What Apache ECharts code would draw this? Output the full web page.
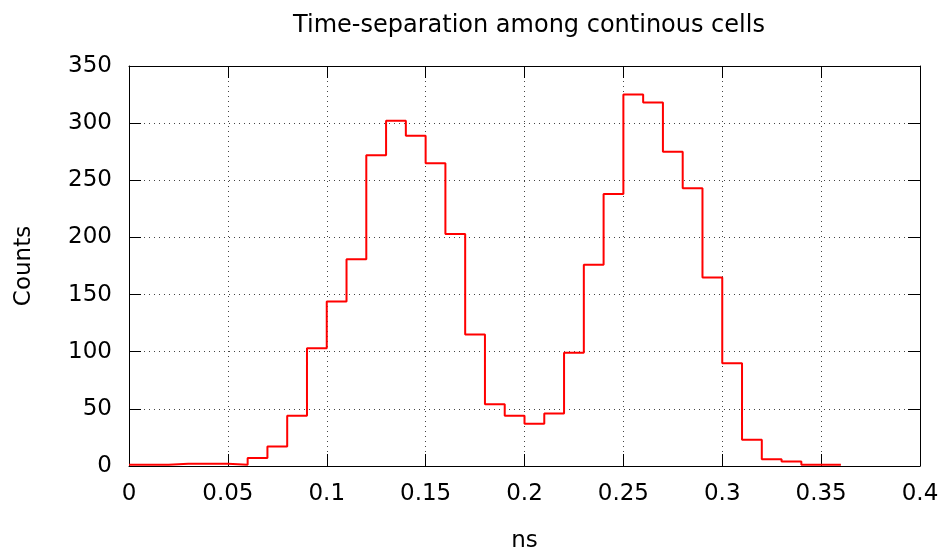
<!DOCTYPE html>
<html>
<head>
<meta charset="utf-8">
<script src="https://cdn.jsdelivr.net/npm/echarts@6/dist/echarts.min.js"></script>
<style>html,body{margin:0;padding:0;background:#fff}#c{width:944px;height:550px}</style>
</head>
<body>
<div id="c"></div>
<script>
// Histogram bins (left edges, ns) and counts
var binStarts = [0.00,0.01,0.02,0.03,0.04,0.05,0.06,0.07,0.08,0.09,
                 0.10,0.11,0.12,0.13,0.14,0.15,0.16,0.17,0.18,0.19,
                 0.20,0.21,0.22,0.23,0.24,0.25,0.26,0.27,0.28,0.29,
                 0.30,0.31,0.32,0.33,0.34,0.35];
var binWidth = 0.01;
var counts = [1,1,2,2,2,1,7,17,44,103,
              144,181,272,302,289,265,203,115,54,44,
              37,46,99,176,238,325,318,275,243,165,
              90,23,6,4,1,1];
var xTicks = {min:0, max:0.4, interval:0.05};
var yTicks = {min:0, max:350, interval:50};
var titleText = 'Time-separation among continous cells';
var xName = 'ns';
var yName = 'Counts';

var stepData = binStarts.map(function(x,i){return [x, counts[i]];});
stepData.push([binStarts[binStarts.length-1] + binWidth, counts[counts.length-1]]);

var font = 'DejaVu Sans';
var chart = echarts.init(document.getElementById('c'), null, {renderer:'canvas'});
var gridLine = {show:true, lineStyle:{color:'#444', width:1, type:[1,4]}};
chart.setOption({
  animation:false,
  backgroundColor:'#fff',
  title:{text:titleText, left:524, textAlign:'center', top:9,
    textStyle:{fontFamily:font, fontSize:24, fontWeight:'normal', color:'#000'}},
  grid:{left:129, right:24, top:66, bottom:84, containLabel:false, outerBoundsMode:'none'},
  xAxis:[{
    type:'value', min:xTicks.min, max:xTicks.max, interval:xTicks.interval,
    name:xName, nameLocation:'middle', nameGap:64,
    nameTextStyle:{fontFamily:font, fontSize:23, color:'#000'},
    axisLine:{show:true, onZero:false, lineStyle:{color:'#000', width:1}},
    axisTick:{show:true, inside:true, length:12, lineStyle:{color:'#000'}},
    axisLabel:{fontFamily:font, fontSize:23, color:'#000', margin:17},
    splitLine:gridLine
  },{
    type:'value', position:'top', min:xTicks.min, max:xTicks.max, interval:xTicks.interval,
    axisLine:{show:true, onZero:false, lineStyle:{color:'#000', width:1}},
    axisTick:{show:true, inside:true, length:12, lineStyle:{color:'#000'}},
    axisLabel:{show:false}, splitLine:{show:false}
  }],
  yAxis:[{
    type:'value', min:yTicks.min, max:yTicks.max, interval:yTicks.interval,
    name:yName, nameLocation:'middle', nameGap:93, nameRotate:90,
    nameTextStyle:{fontFamily:font, fontSize:23, color:'#000'},
    axisLine:{show:true, onZero:false, lineStyle:{color:'#000', width:1}},
    axisTick:{show:true, inside:true, length:12, lineStyle:{color:'#000'}},
    axisLabel:{fontFamily:font, fontSize:23, color:'#000', margin:17},
    splitLine:gridLine
  },{
    type:'value', position:'right', min:yTicks.min, max:yTicks.max, interval:yTicks.interval,
    axisLine:{show:true, onZero:false, lineStyle:{color:'#000', width:1}},
    axisTick:{show:true, inside:true, length:12, lineStyle:{color:'#000'}},
    axisLabel:{show:false}, splitLine:{show:false}
  }],
  series:[{
    type:'line', step:'end', data:stepData, xAxisIndex:0, yAxisIndex:0,
    showSymbol:false, symbol:'none',
    lineStyle:{color:'#ff0000', width:2}
  }]
});
</script>
</body>
</html>
